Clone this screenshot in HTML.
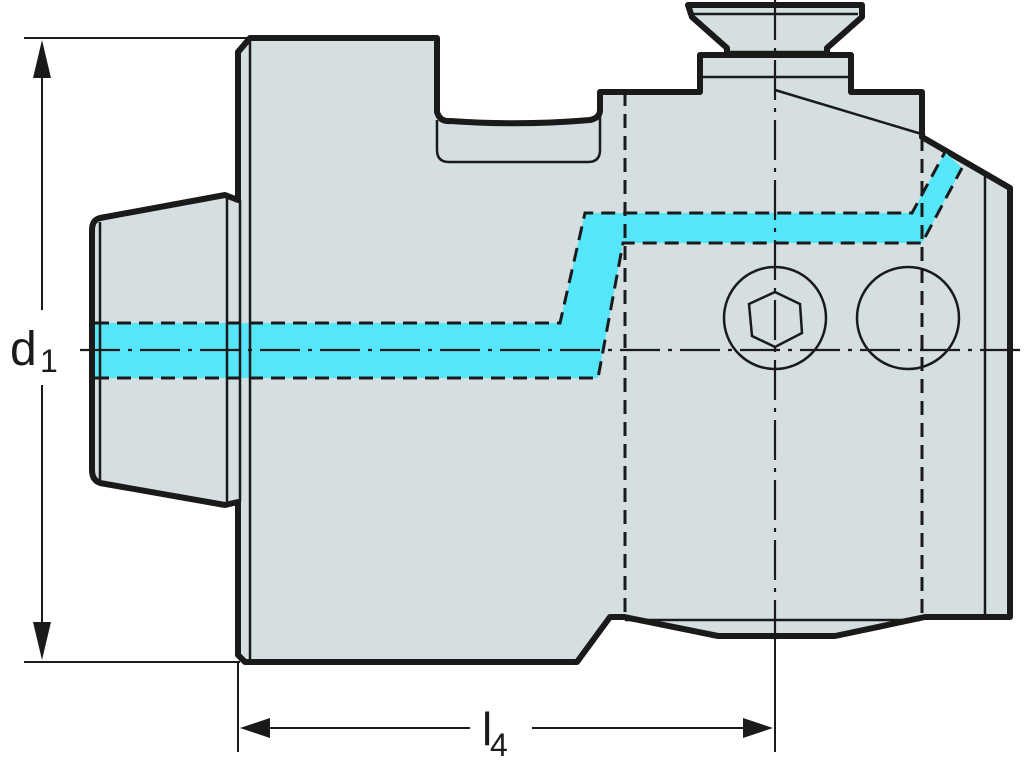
<!DOCTYPE html>
<html><head><style>body{margin:0;background:#fff}svg{display:block}</style></head><body>
<svg width="1024" height="775" viewBox="0 0 1024 775" xmlns="http://www.w3.org/2000/svg" font-family="Liberation Sans, sans-serif">
<g fill="#d5dee1" stroke="#1a1a1a" stroke-width="6" stroke-linejoin="round">
<path d="M238,52 L250,38 L437,38 L437,112 Q440,122 450,121 Q520,126 590,120 Q600,118 600,110 L600,92 L700,92 L700,55 L851,55 L851,92 L922,92 L922,137 L1010,188 L1010,617 L925,617 L835,636 L718,636 L624,617 L610,617 L577,662 L245,662 L238,655 L238,502 L225,505 L100,483 Q92,480 92,470 L92,230 Q92,220 100,218 L225,195 L238,200 Z"/>
<path d="M688,5 L862,5 L862,17 L827,48 L827,55 L727,55 L727,48 L692,17 Z"/>
</g>
<path d="M95,323 L560,323 L585,213 L912,213 L945,152 L962,168 L922,243 L623,243 L598,378 L95,378 Z" fill="#55e6fa"/>
<g fill="none" stroke="#1a1a1a" stroke-width="2.5">
<path d="M437,120 L437,150 Q437,162 449,162 L588,162 Q600,162 600,150 L600,115"/>
<line x1="692" y1="14" x2="858" y2="14"/>
<line x1="727" y1="52" x2="827" y2="52"/>
<line x1="702" y1="77" x2="849" y2="77"/>
<line x1="100" y1="222" x2="100" y2="480"/>
<line x1="227" y1="195" x2="227" y2="505"/>
<line x1="240" y1="200" x2="240" y2="502"/>
<line x1="250" y1="40" x2="250" y2="660"/>
<line x1="985" y1="176" x2="985" y2="615"/>
<line x1="625" y1="620" x2="920" y2="620"/>
<line x1="775" y1="90" x2="925" y2="135"/>
<circle cx="775" cy="318" r="51"/>
<circle cx="908" cy="318" r="51"/>
<path d="M775,292 L800,304 L802,333 L775,347 L752,336 L749,304 Z"/>
</g>
<g fill="none" stroke="#1a1a1a" stroke-width="3" stroke-dasharray="14,8">
<path d="M95,323 L560,323 L585,213 L912,213 L945,152"/>
<path d="M95,378 L598,378 L623,243 L922,243 L962,168"/>
<line x1="625" y1="92" x2="625" y2="615"/>
<line x1="922" y1="137" x2="922" y2="615"/>
</g>
<g fill="none" stroke="#1a1a1a" stroke-width="2.2" stroke-dasharray="40,8,4,8">
<line x1="80" y1="350" x2="1024" y2="350"/>
<line x1="775" y1="0" x2="775" y2="640"/>
</g>
<g stroke="#1a1a1a" stroke-width="2" fill="#1a1a1a">
<line x1="24" y1="38" x2="250" y2="38"/>
<line x1="24" y1="662" x2="240" y2="662"/>
<line x1="42" y1="60" x2="42" y2="310"/>
<line x1="42" y1="385" x2="42" y2="640"/>
<path d="M42,40 L33,78 L51,78 Z" stroke="none"/>
<path d="M42,660 L33,622 L51,622 Z" stroke="none"/>
<line x1="238" y1="662" x2="238" y2="752"/>
<line x1="775" y1="640" x2="775" y2="752"/>
<line x1="260" y1="728" x2="470" y2="728"/>
<line x1="532" y1="728" x2="760" y2="728"/>
<path d="M240,728 L270,718 L270,738 Z" stroke="none"/>
<path d="M773,728 L743,718 L743,738 Z" stroke="none"/>
</g>
<text x="10" y="365" font-size="48" fill="#1a1a1a">d</text>
<text x="40" y="372" font-size="32" fill="#1a1a1a">1</text>
<text x="482" y="745" font-size="46" fill="#1a1a1a">l</text>
<text x="490" y="756" font-size="32" fill="#1a1a1a">4</text>
</svg>
</body></html>
